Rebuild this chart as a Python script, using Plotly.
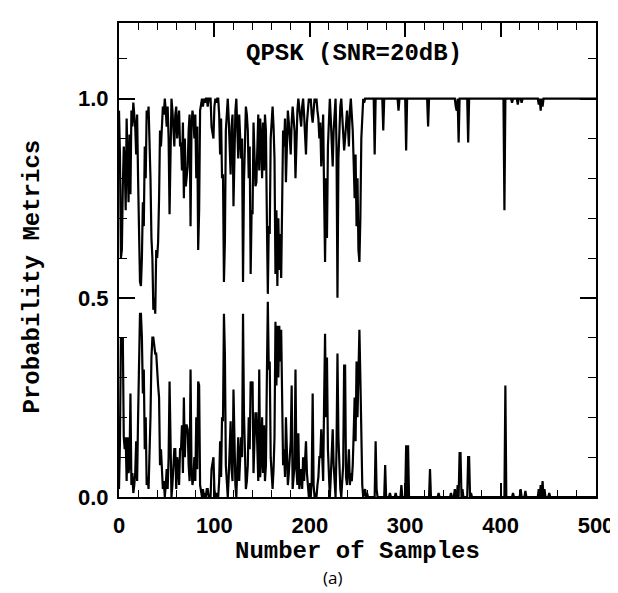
import plotly.graph_objects as go

# ---------------- data ----------------
N_SAMPLES = 500
x_ticks = [0, 100, 200, 300, 400, 500]
y_ticks = [0.0, 0.5, 1.0]
y_tick_text = ["0.0", "0.5", "1.0"]

# upper metric: sits at 1.0, dips listed as sample -> value
upper_dips = {
    0: 0.97, 1: 0.86, 2: 0.60, 3: 0.62, 4: 0.78, 5: 0.88, 6: 0.84, 7: 0.72, 8: 0.95, 9: 0.85,
    10: 0.74, 11: 0.91, 12: 0.76, 13: 0.97, 14: 0.93, 15: 0.99, 16: 0.96, 17: 0.93, 18: 0.86,
    19: 0.96, 20: 0.80, 21: 0.70, 22: 0.54, 23: 0.53, 24: 0.60, 25: 0.74, 26: 0.68, 27: 0.88,
    28: 0.80, 29: 0.97, 30: 0.95, 31: 0.98, 32: 0.90, 33: 0.80, 34: 0.65, 35: 0.60, 36: 0.47,
    37: 0.50, 38: 0.46, 39: 0.62, 40: 0.60, 41: 0.64, 42: 0.75, 43: 0.92, 44: 0.88, 45: 0.95,
    46: 0.98, 47: 0.96, 49: 0.97, 50: 0.93, 51: 0.98, 52: 0.90, 53: 0.71, 54: 0.94, 56: 0.97,
    57: 0.92, 58: 0.88, 59: 0.96, 60: 0.98, 61: 0.90, 62: 0.95, 63: 0.97, 64: 0.88, 65: 0.89,
    66: 0.82, 67: 0.94, 68: 0.75, 69: 0.90, 70: 0.78, 71: 0.82, 72: 0.83, 73: 0.92, 74: 0.96,
    75: 0.68, 76: 0.93, 77: 0.97, 78: 0.95, 79: 0.90, 80: 0.96, 81: 0.80, 82: 0.93, 83: 0.62,
    84: 0.72, 85: 0.97, 86: 0.99, 88: 0.98, 90: 0.99, 93: 0.98, 97: 0.93, 98: 0.91, 99: 0.90,
    100: 0.98, 102: 0.99, 105: 0.96, 106: 0.86, 107: 0.95, 108: 0.80, 109: 0.81, 110: 0.54,
    111: 0.64, 112: 0.92, 113: 0.97, 115: 0.95, 116: 0.90, 117: 0.81, 118: 0.93, 119: 0.96,
    120: 0.73, 121: 0.88, 122: 0.97, 124: 0.94, 125: 0.85, 126: 0.96, 127: 0.92, 128: 0.85,
    129: 0.90, 130: 0.54, 131: 0.79, 132: 0.93, 133: 0.98, 134: 0.96, 135: 0.92, 136: 0.80,
    137: 0.88, 138: 0.56, 139: 0.72, 140: 0.71, 141: 0.94, 142: 0.86, 143: 0.78, 144: 0.79,
    145: 0.93, 146: 0.96, 147: 0.82, 148: 0.95, 149: 0.90, 150: 0.80, 151: 0.94, 152: 0.82,
    153: 0.96, 154: 0.92, 155: 0.70, 156: 0.51, 157: 0.68, 158: 0.66, 159: 0.90, 160: 0.96,
    161: 0.98, 162: 0.93, 163: 0.85, 164: 0.56, 165: 0.72, 166: 0.53, 167: 0.70, 168: 0.57,
    169: 0.66, 170: 0.55, 171: 0.74, 172: 0.92, 173: 0.88, 174: 0.95, 175: 0.79, 176: 0.90,
    177: 0.97, 178: 0.94, 179: 0.90, 180: 0.86, 181: 0.94, 182: 0.98, 183: 0.95, 184: 0.92,
    185: 0.80, 186: 0.93, 187: 0.97, 189: 0.98, 190: 0.95, 191: 0.93, 192: 0.98, 194: 0.96,
    195: 0.92, 196: 0.86, 197: 0.94, 198: 0.97, 200: 0.99, 202: 0.96, 203: 0.94, 204: 0.97,
    206: 0.99, 208: 0.97, 209: 0.95, 210: 0.90, 211: 0.94, 212: 0.83, 213: 0.92, 214: 0.96,
    215: 0.76, 216: 0.59, 217: 0.80, 218: 0.65, 219: 0.88, 220: 0.97, 222: 0.95, 223: 0.90,
    224: 0.83, 225: 0.92, 226: 0.96, 228: 0.88, 229: 0.50, 230: 0.85, 231: 0.94, 232: 0.98,
    234: 0.96, 235: 0.92, 236: 0.87, 237: 0.90, 238: 0.95, 239: 0.97, 240: 0.93, 241: 0.88,
    242: 0.97, 244: 0.96, 245: 0.92, 246: 0.84, 247: 0.75, 248: 0.86, 249: 0.68, 250: 0.80,
    251: 0.62, 252: 0.59, 253: 0.70, 254: 0.90, 255: 0.97, 257: 0.99,
    268: 0.86, 277: 0.92, 293: 0.97, 301: 0.87, 324: 0.93, 353: 0.98, 354: 0.97, 356: 0.89,
    366: 0.89, 404: 0.72, 412: 0.99, 418: 0.985, 422: 0.99, 440: 0.985, 442: 0.97, 444: 0.98,
}

# lower metric: sits at 0.0, spikes listed as sample -> value
lower_spikes = {
    0: 0.02, 1: 0.14, 2: 0.40, 3: 0.38, 4: 0.40, 5: 0.15, 6: 0.12, 7: 0.15, 8: 0.04, 9: 0.15,
    10: 0.06, 11: 0.08, 12: 0.26, 13: 0.03, 14: 0.06, 15: 0.01, 16: 0.03, 17: 0.06, 18: 0.14,
    19: 0.04, 20: 0.20, 21: 0.30, 22: 0.46, 23: 0.46, 24: 0.40, 25: 0.26, 26: 0.32, 27: 0.12,
    28: 0.20, 29: 0.03, 30: 0.05, 31: 0.02, 32: 0.10, 33: 0.20, 34: 0.35, 35: 0.40, 36: 0.40,
    37: 0.38, 38: 0.36, 39: 0.36, 40: 0.30, 41: 0.28, 42: 0.25, 43: 0.08, 44: 0.12, 45: 0.05,
    46: 0.02, 47: 0.04, 49: 0.03, 50: 0.07, 51: 0.02, 52: 0.10, 53: 0.29, 54: 0.06, 56: 0.03,
    57: 0.08, 58: 0.12, 59: 0.12, 60: 0.02, 61: 0.10, 62: 0.08, 63: 0.03, 64: 0.12, 65: 0.12,
    66: 0.18, 67: 0.06, 68: 0.25, 69: 0.10, 70: 0.18, 71: 0.18, 72: 0.17, 73: 0.08, 74: 0.04,
    75: 0.32, 76: 0.07, 77: 0.03, 78: 0.05, 79: 0.10, 80: 0.04, 81: 0.20, 82: 0.07, 83: 0.29,
    84: 0.28, 85: 0.03, 86: 0.01, 88: 0.02, 90: 0.01, 92: 0.02, 93: 0.02, 97: 0.07, 98: 0.09,
    99: 0.10, 100: 0.02, 102: 0.01, 105: 0.04, 106: 0.14, 107: 0.05, 108: 0.20, 109: 0.19,
    110: 0.46, 111: 0.36, 112: 0.08, 113: 0.03, 115: 0.05, 116: 0.10, 117: 0.19, 118: 0.07,
    119: 0.04, 120: 0.27, 121: 0.12, 122: 0.03, 124: 0.06, 125: 0.15, 126: 0.04, 127: 0.08,
    128: 0.15, 129: 0.10, 130: 0.46, 131: 0.21, 132: 0.07, 133: 0.02, 134: 0.04, 135: 0.08,
    136: 0.20, 137: 0.12, 138: 0.29, 139: 0.28, 140: 0.29, 141: 0.06, 142: 0.14, 143: 0.21,
    144: 0.21, 145: 0.07, 146: 0.04, 147: 0.32, 148: 0.05, 149: 0.10, 150: 0.20, 151: 0.06,
    152: 0.18, 153: 0.04, 154: 0.08, 155: 0.30, 156: 0.49, 157: 0.32, 158: 0.34, 159: 0.10,
    160: 0.04, 161: 0.02, 162: 0.07, 163: 0.15, 164: 0.44, 165: 0.28, 166: 0.43, 167: 0.30,
    168: 0.43, 169: 0.34, 170: 0.42, 171: 0.26, 172: 0.08, 173: 0.12, 174: 0.05, 175: 0.20,
    176: 0.10, 177: 0.03, 178: 0.06, 179: 0.10, 180: 0.14, 181: 0.28, 182: 0.02, 183: 0.05,
    184: 0.08, 185: 0.32, 186: 0.07, 187: 0.03, 188: 0.16, 189: 0.02, 190: 0.05, 191: 0.07,
    192: 0.02, 193: 0.10, 194: 0.04, 195: 0.08, 196: 0.14, 197: 0.06, 198: 0.03, 200: 0.01,
    202: 0.04, 203: 0.26, 204: 0.03, 206: 0.01, 208: 0.03, 209: 0.05, 210: 0.10, 211: 0.10,
    212: 0.17, 213: 0.08, 214: 0.04, 215: 0.24, 216: 0.41, 217: 0.20, 218: 0.35, 219: 0.12,
    220: 0.03, 222: 0.05, 223: 0.10, 224: 0.17, 225: 0.08, 226: 0.04, 228: 0.12, 229: 0.36,
    230: 0.15, 231: 0.06, 232: 0.02, 234: 0.04, 235: 0.08, 236: 0.33, 237: 0.33, 238: 0.05,
    239: 0.03, 240: 0.07, 241: 0.12, 242: 0.03, 243: 0.06, 244: 0.04, 245: 0.08, 246: 0.16,
    247: 0.25, 248: 0.14, 249: 0.34, 250: 0.20, 251: 0.38, 252: 0.42, 253: 0.30, 254: 0.10,
    255: 0.03, 257: 0.01, 258: 0.02, 260: 0.01,
    269: 0.14, 270: 0.02, 279: 0.08, 284: 0.01, 290: 0.01, 296: 0.03, 301: 0.13, 303: 0.13,
    326: 0.07, 335: 0.01, 348: 0.01, 352: 0.02, 355: 0.03, 357: 0.11, 358: 0.11, 360: 0.02,
    366: 0.10, 367: 0.10, 369: 0.01, 405: 0.28, 413: 0.01, 421: 0.02, 426: 0.015,
    440: 0.02, 442: 0.03, 444: 0.04, 446: 0.02, 451: 0.01,
}

UPPER_BASE = 1.0
LOWER_BASE = 0.0

# ---------------- build series ----------------
samples = list(range(N_SAMPLES + 1))
upper = [upper_dips.get(i, UPPER_BASE) for i in samples]
lower = [lower_spikes.get(i, LOWER_BASE) for i in samples]

MONO = "Liberation Mono"
SANS = "Liberation Sans"

# figure geometry (pixels)
W, H = 618, 593
ML, MR, MT, MB = 111, 22, 15, 104
PW, PH = W - ML - MR, H - MT - MB


def px_to_paper_x(px):
    return (px - ML) / PW


def px_to_paper_y(py):
    return (H - MB - py) / PH


fig = go.Figure()
for ys in (upper, lower):
    fig.add_trace(go.Scatter(x=samples, y=ys, mode="lines",
                             line=dict(color="black", width=2.2),
                             showlegend=False, hoverinfo="skip"))

axis_common = dict(showline=True, linecolor="black", linewidth=2, mirror="ticks",
                   ticks="inside", tickcolor="black", tickwidth=1.6,
                   showgrid=False, zeroline=False,
                   tickfont=dict(family=SANS, size=22, color="black", weight="bold"))

fig.update_xaxes(range=[0, N_SAMPLES], tickmode="array", tickvals=x_ticks,
                 ticktext=[str(v) for v in x_ticks], ticklen=14, ticklabelstandoff=8,
                 minor=dict(tick0=0, dtick=20, ticklen=7, ticks="inside",
                            tickcolor="black", tickwidth=1.4),
                 **axis_common)
fig.update_yaxes(range=[0, 1.19], tickmode="array", tickvals=y_ticks,
                 ticktext=y_tick_text, ticklen=16, ticklabelstandoff=4,
                 minor=dict(tick0=0, dtick=0.1, ticklen=8, ticks="inside",
                            tickcolor="black", tickwidth=1.4),
                 **axis_common)

title_font = dict(family=MONO, size=24, color="black", weight="bold")
fig.add_annotation(x=246, y=1.114, xref="x", yref="y", text="QPSK (SNR=20dB)",
                   showarrow=False, yanchor="middle", xanchor="center", font=title_font)
fig.add_annotation(x=px_to_paper_x(354), y=px_to_paper_y(543), xref="paper", yref="paper",
                   text="Number of Samples", showarrow=False,
                   xanchor="center", yanchor="middle", font=title_font)
fig.add_annotation(x=px_to_paper_x(23), y=px_to_paper_y(268), xref="paper", yref="paper",
                   text="Probability Metrics", showarrow=False, textangle=-90,
                   xanchor="center", yanchor="middle", font=title_font)
fig.add_annotation(x=px_to_paper_x(328), y=px_to_paper_y(569), xref="paper", yref="paper",
                   text="(a)", showarrow=False, xanchor="center", yanchor="middle",
                   font=dict(family="Open Sans", size=17, color="black"))

fig.update_layout(width=W, height=H, margin=dict(l=ML, r=MR, t=MT, b=MB),
                  plot_bgcolor="white", paper_bgcolor="white")

fig.write_html("out.html")
